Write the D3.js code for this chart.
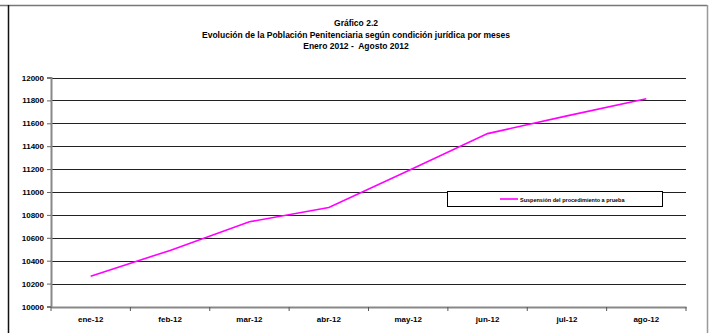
<!DOCTYPE html>
<html><head><meta charset="utf-8">
<script src="https://cdn.jsdelivr.net/npm/d3@7"></script>
<style>
body{margin:0;background:#fff;}
svg{display:block;}
text{font-family:"Liberation Sans Narrow","Arial Narrow","Liberation Sans",Arial,sans-serif;font-weight:bold;fill:#000;white-space:pre;}
</style></head>
<body>
<script>
const categories = ["ene-12","feb-12","mar-12","abr-12","may-12","jun-12","jul-12","ago-12"];
const values = [10265, 10490, 10740, 10865, 11185, 11510, 11665, 11815];
const yTicks = [10000,10200,10400,10600,10800,11000,11200,11400,11600,11800,12000];
const titleLines = ["Gráfico 2.2","Evolución de la Población Penitenciaria según condición jurídica por meses","Enero 2012 -  Agosto 2012"];
const seriesName = "Suspensión del procedimiento a prueba";

const W = 712, H = 333;
const svg = d3.select("body").append("svg").attr("width", W).attr("height", H);

// frame
svg.append("line").attr("x1",0).attr("x2",707).attr("y1",5.5).attr("y2",5.5).attr("stroke","#777").attr("stroke-width",1.5);
svg.append("line").attr("x1",8.5).attr("x2",8.5).attr("y1",5).attr("y2",H).attr("stroke","#111").attr("stroke-width",1.5);
svg.append("line").attr("x1",707.5).attr("x2",707.5).attr("y1",5).attr("y2",H).attr("stroke","#999").attr("stroke-width",1.5);

const x = d3.scaleBand().domain(categories).range([51, 686]);
const y = d3.scaleLinear().domain([10000, 12000]).range([306.5, 77.5]);

// title
svg.append("g").selectAll("text").data(titleLines).join("text")
  .attr("x", 356).attr("y", (d,i) => 26 + i*11.5)
  .attr("text-anchor","middle").attr("font-size", 8.5).text(d => d);

// gridlines
svg.append("g").selectAll("line").data(yTicks.slice(1)).join("line")
  .attr("x1", 51).attr("x2", 686)
  .attr("y1", d => Math.round(y(d)) + 0.5).attr("y2", d => Math.round(y(d)) + 0.5)
  .attr("stroke","#222").attr("stroke-width",1.2);

// y axis
const yAxis = svg.append("g").attr("transform","translate(51,0)")
  .call(d3.axisLeft(y).tickValues(yTicks).tickSize(4).tickPadding(3).tickFormat(d3.format("d")));
yAxis.select(".domain").attr("stroke","#888").attr("stroke-width",2);
yAxis.selectAll(".tick line").attr("stroke","#666");
yAxis.selectAll("text").attr("font-size",8).style("font-family","'Liberation Sans',Arial,sans-serif").attr("font-weight","bold");

// x axis
const xAxis = svg.append("g").attr("transform","translate(0,307)")
  .call(d3.axisBottom(x).tickSize(0).tickPadding(9));
xAxis.select(".domain").attr("stroke","#888").attr("stroke-width",2);
xAxis.selectAll("text").attr("font-size",8).style("font-family","'Liberation Sans',Arial,sans-serif").attr("font-weight","bold");
// x ticks at band boundaries
const bounds = categories.map(c => x(c)).concat([686]);
svg.append("g").selectAll("line").data(bounds).join("line")
  .attr("x1", d => d).attr("x2", d => d).attr("y1", 307).attr("y2", 311)
  .attr("stroke","#555").attr("stroke-width",1);

// line
const line = d3.line().x((d,i) => x(categories[i]) + x.bandwidth()/2).y(d => y(d));
svg.append("path").datum(values).attr("d", line)
  .attr("fill","none").attr("stroke","#ff00ff").attr("stroke-width",1.6);

// legend
const lg = svg.append("g");
lg.append("rect").attr("x",447.5).attr("y",191.5).attr("width",215).attr("height",15)
  .attr("fill","#fff").attr("stroke","#000").attr("stroke-width",1);
lg.append("line").attr("x1",500).attr("x2",518).attr("y1",199).attr("y2",199)
  .attr("stroke","#ff00ff").attr("stroke-width",1.6);
lg.append("text").attr("x",520).attr("y",201.5).attr("font-size",5.5)
  .style("font-family","'Liberation Sans',Arial,sans-serif").text(seriesName);
</script>
</body></html>
